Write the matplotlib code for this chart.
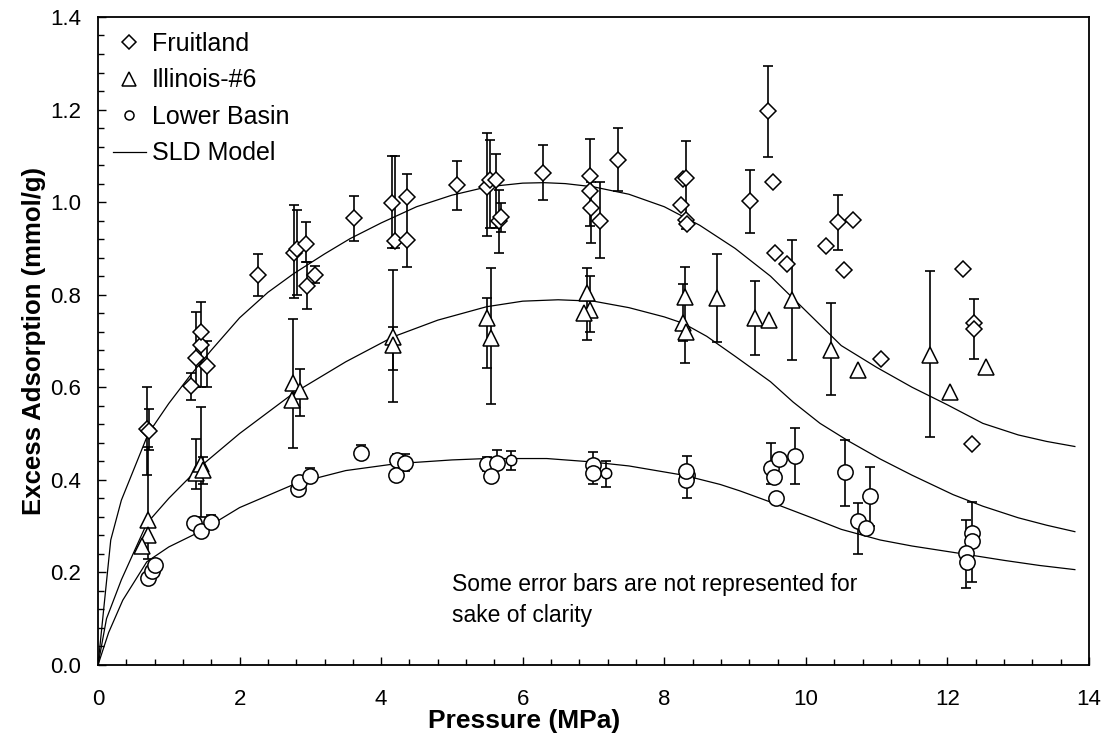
import numpy as np
import matplotlib
matplotlib.use("Agg")
import matplotlib.pyplot as plt
from matplotlib.lines import Line2D
from matplotlib.ticker import MultipleLocator

plt.rcParams['font.family'] = ['Liberation Sans', 'DejaVu Sans']

nan = np.nan

# Fruitland: pressure, excess adsorption, error bar low / high (nan = no bar)
fr_x = [0.69, 0.72, 1.31, 1.385, 1.46, 1.46, 1.535, 2.265, 2.77, 2.81, 2.94, 2.95, 3.07,
        3.61, 4.16, 4.20, 4.36, 4.37, 5.07, 5.50, 5.54, 5.62, 5.67, 5.70, 6.29, 6.95,
        6.95, 6.96, 7.09, 7.34, 8.27, 8.31, 8.24, 8.31, 8.32, 9.21, 9.46, 9.54, 9.56,
        9.74, 10.28, 10.46, 10.54, 10.67, 11.06, 12.22, 12.37, 12.37, 12.35]
fr_y = [0.509, 0.505, 0.603, 0.664, 0.691, 0.719, 0.646, 0.842, 0.889, 0.898, 0.909, 0.819, 0.843,
        0.965, 0.999, 0.917, 1.012, 0.918, 1.037, 1.032, 1.048, 1.048, 0.960, 0.967, 1.063, 1.056,
        1.024, 0.988, 0.960, 1.091, 1.050, 1.053, 0.994, 0.961, 0.952, 1.002, 1.197, 1.043, 0.891,
        0.866, 0.906, 0.956, 0.853, 0.961, 0.660, 0.855, 0.738, 0.725, 0.477]
fr_lo = [0.410, 0.464, 0.572, 0.600, 0.600, nan, 0.600, 0.797, 0.792, 0.800, 0.871, 0.768, 0.825,
         0.917, 0.900, 0.900, 0.859, nan, 0.983, 0.927, 0.943, 0.943, 0.891, 0.936, 1.005, 0.949,
         nan, 0.911, 0.879, 1.023, nan, 0.942, nan, nan, nan, 0.934, 1.098, nan, nan,
         nan, nan, 0.897, nan, nan, nan, nan, 0.662, nan, nan]
fr_hi = [0.601, 0.553, 0.630, 0.762, 0.785, nan, 0.700, 0.887, 0.994, 0.984, 0.956, 0.870, 0.861,
         1.014, 1.100, 1.100, 1.060, nan, 1.089, 1.150, 1.135, 1.104, 1.026, 0.999, 1.123, 1.136,
         nan, 1.044, 1.044, 1.160, nan, 1.131, nan, nan, nan, 1.069, 1.294, nan, nan,
         nan, nan, 1.015, nan, nan, nan, nan, 0.790, nan, nan]

# Illinois-#6
il_x = [0.70, 0.70, 0.62, 1.39, 1.46, 1.49, 2.76, 2.85, 2.74, 4.17, 4.17, 5.49, 5.55, 6.91,
        6.95, 6.86, 8.29, 8.26, 8.31, 8.74, 9.28, 9.48, 9.81, 10.35, 10.74, 11.75, 12.04, 12.54]
il_y = [0.313, 0.281, 0.256, 0.414, 0.435, 0.421, 0.609, 0.591, 0.572, 0.709, 0.691, 0.749, 0.706, 0.803,
        0.767, 0.760, 0.796, 0.738, 0.720, 0.792, 0.749, 0.745, 0.789, 0.680, 0.637, 0.670, 0.590, 0.644]
il_lo = [0.230, nan, nan, 0.380, 0.320, 0.392, 0.468, 0.538, nan, 0.569, 0.637, 0.642, 0.564, 0.702,
         0.720, nan, 0.653, 0.700, nan, 0.698, 0.670, nan, 0.659, 0.583, nan, 0.493, nan, nan]
il_hi = [0.472, nan, nan, 0.488, 0.558, 0.450, 0.747, 0.639, nan, 0.853, 0.731, 0.792, 0.857, 0.857,
         0.841, nan, 0.860, 0.824, nan, 0.888, 0.830, nan, 0.918, 0.781, nan, 0.851, nan, nan]

# Lower Basin
lb_x = [0.70, 0.76, 0.81, 1.35, 1.45, 1.59, 2.83, 2.84, 3.00, 3.72, 4.22, 4.21, 4.34, 5.50,
        5.63, 5.55, 6.99, 6.99, 8.32, 8.30, 8.30, 9.51, 9.55, 9.62, 9.58, 9.85, 10.55, 10.90,
        10.74, 10.85, 12.35, 12.34, 12.26, 12.28]
lb_y = [0.187, 0.202, 0.216, 0.306, 0.290, 0.308, 0.381, 0.396, 0.408, 0.459, 0.443, 0.410, 0.437, 0.435,
        0.437, 0.408, 0.432, 0.414, 0.410, 0.400, 0.420, 0.425, 0.407, 0.446, 0.360, 0.452, 0.416, 0.364,
        0.310, 0.296, 0.286, 0.267, 0.241, 0.223]
lb_lo = [nan, nan, nan, nan, nan, 0.300, nan, nan, 0.395, 0.445, 0.430, nan, 0.420, 0.420,
         0.425, nan, 0.390, nan, 0.360, nan, nan, 0.392, nan, nan, nan, 0.392, 0.343, 0.300,
         0.240, nan, 0.180, nan, 0.166, nan]
lb_hi = [nan, nan, nan, nan, nan, 0.325, nan, nan, 0.425, 0.475, 0.455, nan, 0.455, 0.450,
         0.465, nan, 0.460, nan, 0.451, nan, nan, 0.480, nan, nan, nan, 0.511, 0.486, 0.428,
         0.350, nan, 0.353, nan, 0.313, nan]
# two Lower Basin points drawn with a smaller circle
lbs_x = [5.83, 7.18]
lbs_y = [0.443, 0.414]
lbs_lo = [0.421, 0.385]
lbs_hi = [0.463, 0.440]

# SLD model curves
fr_mx = [0.0, 0.18, 0.33, 0.71, 1.0, 1.30, 1.6, 2.0, 2.4, 2.76, 3.2, 3.56, 4.0, 4.5, 5.0, 5.5,
         6.0, 6.3, 6.6, 7.0, 7.5, 8.0, 8.5, 9.0, 9.5, 10.0, 10.5, 11.0, 11.5, 12.0, 12.5,
         13.0, 13.4, 13.8]
fr_my = [0.0, 0.270, 0.356, 0.500, 0.565, 0.625, 0.680, 0.750, 0.805, 0.845, 0.888, 0.921, 0.955, 0.990,
         1.015, 1.033, 1.041, 1.042, 1.040, 1.033, 1.017, 0.990, 0.950, 0.900, 0.840, 0.765, 0.690,
         0.643, 0.600, 0.562, 0.522, 0.497, 0.483, 0.472]
il_mx = [0.0, 0.12, 0.33, 0.69, 1.0, 1.44, 2.0, 2.76, 3.5, 4.17, 4.8, 5.49, 6.0, 6.5, 7.0, 7.5,
         8.0, 8.27, 8.6, 9.0, 9.5, 9.82, 10.2, 10.6, 11.05, 11.5, 12.08, 12.5, 13.0, 13.4, 13.8]
il_my = [0.0, 0.100, 0.184, 0.306, 0.360, 0.428, 0.500, 0.587, 0.655, 0.709, 0.745, 0.774, 0.786, 0.789,
         0.786, 0.772, 0.752, 0.738, 0.710, 0.667, 0.612, 0.568, 0.522, 0.484, 0.445, 0.410, 0.368,
         0.343, 0.318, 0.302, 0.288]
lb_mx = [0.0, 0.15, 0.35, 0.69, 1.0, 1.44, 2.0, 2.81, 3.5, 4.22, 5.0, 5.49, 6.34, 6.95, 7.5,
         8.27, 8.79, 9.07, 9.5, 10.1, 10.5, 11.05, 11.5, 12.22, 12.8, 13.3, 13.8]
lb_my = [0.0, 0.070, 0.140, 0.223, 0.255, 0.288, 0.340, 0.393, 0.420, 0.435, 0.443, 0.446, 0.446, 0.439,
         0.430, 0.410, 0.390, 0.376, 0.352, 0.317, 0.293, 0.270, 0.257, 0.240, 0.226, 0.215, 0.206]

labels = ['Fruitland', 'Illinois-#6', 'Lower Basin', 'SLD Model']
note = 'Some error bars are not represented for\nsake of clarity'


def draw_series(ax, x, y, lo, hi, marker, ms):
    x = np.array(x)
    y = np.array(y)
    lo = np.array(lo)
    hi = np.array(hi)
    yerr = np.vstack([y - lo, hi - y])
    ax.errorbar(x, y, yerr=yerr, fmt='none', ecolor='black', elinewidth=1.2,
                capsize=3.8, capthick=1.2, zorder=2)
    ax.plot(x, y, linestyle='none', marker=marker, markersize=ms, markerfacecolor='white',
            markeredgecolor='black', markeredgewidth=1.1, zorder=3)


fig = plt.figure(figsize=(11.15, 7.41), dpi=100)
ax = fig.add_axes([0.0879, 0.1026, 0.8888, 0.8745])

for mx, my in [(fr_mx, fr_my), (il_mx, il_my), (lb_mx, lb_my)]:
    ax.plot(mx, my, color='black', linewidth=0.9, zorder=1)

draw_series(ax, fr_x, fr_y, fr_lo, fr_hi, 'D', 8)
draw_series(ax, il_x, il_y, il_lo, il_hi, '^', 11)
draw_series(ax, lb_x, lb_y, lb_lo, lb_hi, 'o', 11)
draw_series(ax, lbs_x, lbs_y, lbs_lo, lbs_hi, 'o', 7.5)

ax.set_xlim(0, 14)
ax.set_ylim(0, 1.4)
ax.xaxis.set_major_locator(MultipleLocator(2))
ax.xaxis.set_minor_locator(MultipleLocator(0.4))
ax.yaxis.set_major_locator(MultipleLocator(0.2))
ax.yaxis.set_minor_locator(MultipleLocator(0.04))
ax.yaxis.set_major_formatter(plt.FormatStrFormatter('%.1f'))
ax.tick_params(which='both', direction='in', top=False, right=False, width=1, labelsize=16)
ax.tick_params(axis='x', which='both', pad=17)
ax.tick_params(axis='y', which='both', pad=12)
ax.tick_params(which='major', length=6)
ax.tick_params(which='minor', length=4)
for s in ax.spines.values():
    s.set_linewidth(1.3)

ax.set_xlabel('Pressure (MPa)', fontsize=19, fontweight='bold', labelpad=-1)
ax.xaxis.set_label_coords(0.43, -0.068)
ax.set_ylabel('Excess Adsorption (mmol/g)', fontsize=18.5, fontweight='bold', labelpad=3)

ax.text(5.0, 0.14, note, fontsize=16.5, va='center', ha='left', linespacing=1.45)

handles = [
    Line2D([], [], linestyle='none', marker='D', markersize=7, markerfacecolor='white',
           markeredgecolor='black', markeredgewidth=1.1),
    Line2D([], [], linestyle='none', marker='^', markersize=10, markerfacecolor='white',
           markeredgecolor='black', markeredgewidth=1.1),
    Line2D([], [], linestyle='none', marker='o', markersize=6.5, markerfacecolor='white',
           markeredgecolor='black', markeredgewidth=1.1),
    Line2D([], [], color='black', linewidth=0.9),
]
ax.legend(handles, labels, loc='upper left', frameon=False, fontsize=18,
          handlelength=1.3, handletextpad=0.25, labelspacing=0.5,
          borderaxespad=0.2, bbox_to_anchor=(0.0, 1.0))

fig.savefig('out.png', dpi=100)
